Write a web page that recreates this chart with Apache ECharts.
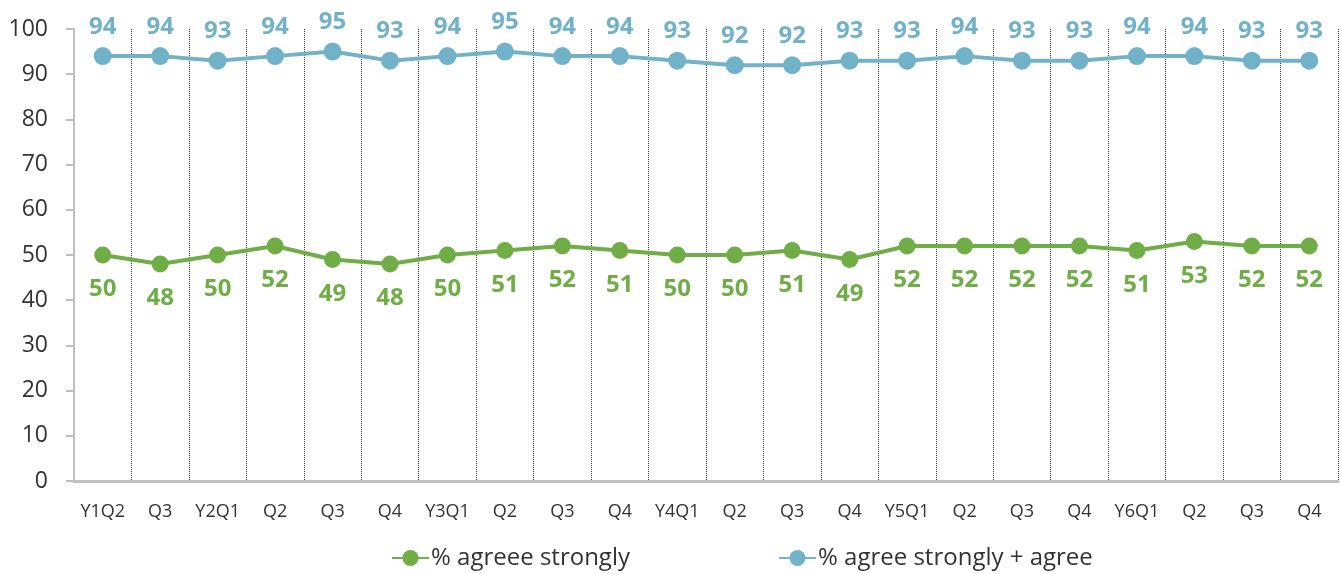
<!DOCTYPE html>
<html>
<head>
<meta charset="utf-8">
<script src="https://cdn.jsdelivr.net/npm/echarts@6/dist/echarts.min.js"></script>
<style>
  html, body { margin: 0; padding: 0; background: #fff; }
  #chart { width: 1341px; height: 574px; }
</style>
</head>
<body>
<div id="chart"></div>
<script>
const quarters = ['Y1Q2', 'Q3', 'Y2Q1', 'Q2', 'Q3', 'Q4', 'Y3Q1', 'Q2', 'Q3', 'Q4', 'Y4Q1',
  'Q2', 'Q3', 'Q4', 'Y5Q1', 'Q2', 'Q3', 'Q4', 'Y6Q1', 'Q2', 'Q3', 'Q4'];
const agreeStrongly = [50, 48, 50, 52, 49, 48, 50, 51, 52, 51, 50, 50, 51, 49, 52, 52, 52, 52, 51, 53, 52, 52];
const agreeStronglyPlusAgree = [94, 94, 93, 94, 95, 93, 94, 95, 94, 94, 93, 92, 92, 93, 93, 94, 93, 93, 94, 94, 93, 93];

const GREEN = '#70ad47';
const BLUE = '#72b2c9';
const FONT = '"Open Sans", "Noto Sans", sans-serif';

const chart = echarts.init(document.getElementById('chart'), null, { renderer: 'canvas' });

chart.setOption({
  animation: false,
  backgroundColor: '#fff',
  textStyle: { fontFamily: FONT },
  grid: { left: 74, right: 3, top: 29, bottom: 93 },
  legend: {
    top: 541,
    left: 386,
    itemGap: 148,
    itemWidth: 37,
    itemHeight: 20,
    textStyle: { fontSize: 24, color: '#333', fontFamily: FONT, padding: [0, 0, 0, -3] },
    data: ['% agreee strongly', '% agree strongly + agree']
  },
  xAxis: {
    type: 'category',
    data: quarters,
    boundaryGap: true,
    axisLine: { lineStyle: { color: '#c0c0c0', width: 3 } },
    axisTick: { show: false },
    axisLabel: { color: '#333', fontSize: 18, margin: 22, interval: 0, fontFamily: FONT },
    splitLine: { show: true, interval: 0, lineStyle: { color: '#333', type: [1, 1], width: 1 } }
  },
  yAxis: {
    type: 'value',
    min: 0,
    max: 100,
    interval: 10,
    axisLine: { show: true, lineStyle: { color: '#bfbfbf', width: 2 } },
    axisTick: { show: true, length: 8, lineStyle: { color: '#bfbfbf', width: 2 } },
    axisLabel: { color: '#333', fontSize: 23, margin: 26, fontFamily: FONT },
    splitLine: { show: false }
  },
  series: [
    {
      name: '% agreee strongly',
      type: 'line',
      data: agreeStrongly,
      color: GREEN,
      symbol: 'circle',
      symbolSize: 17,
      lineStyle: { width: 4, color: GREEN },
      label: {
        show: true,
        position: 'bottom',
        distance: 14,
        color: GREEN,
        fontSize: 24,
        fontWeight: 'bold',
        fontFamily: FONT
      }
    },
    {
      name: '% agree strongly + agree',
      type: 'line',
      data: agreeStronglyPlusAgree,
      color: BLUE,
      symbol: 'circle',
      symbolSize: 18,
      lineStyle: { width: 4, color: BLUE },
      label: {
        show: true,
        position: 'top',
        distance: 8,
        color: BLUE,
        fontSize: 24,
        fontWeight: 'bold',
        fontFamily: FONT
      }
    }
  ]
});
</script>
</body>
</html>
